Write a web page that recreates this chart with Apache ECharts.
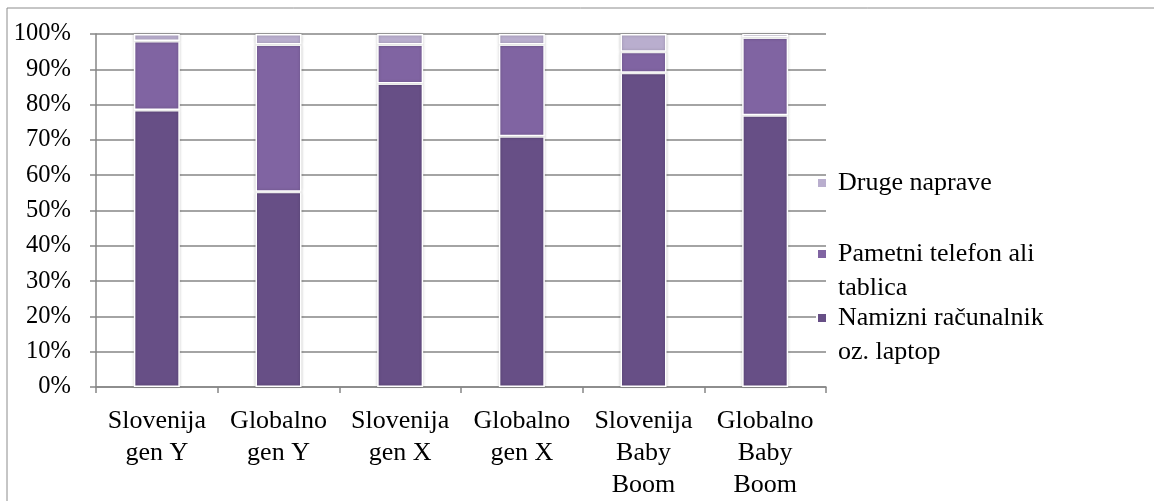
<!DOCTYPE html>
<html>
<head>
<meta charset="utf-8">
<style>
  html, body { margin: 0; padding: 0; background: #ffffff; }
  #chart { width: 1154px; height: 501px; }
</style>
<script src="https://cdn.jsdelivr.net/npm/echarts@6/dist/echarts.min.js"></script>
</head>
<body>
<div id="chart"></div>
<script>
// Device used, by generation (share of respondents, %)
const categories = [
  'Slovenija\ngen Y', 'Globalno\ngen Y', 'Slovenija\ngen X',
  'Globalno\ngen X', 'Slovenija\nBaby\nBoom', 'Globalno\nBaby\nBoom'
];
const laptop = [78.5, 55.3, 86, 71, 89, 77];
const phoneTablet = [19.5, 41.7, 11, 26, 6, 22];
const otherDevices = [2, 3, 3, 3, 5, 1];
const yTicks = [0, 10, 20, 30, 40, 50, 60, 70, 80, 90, 100];

const seriesNames = {
  laptop: 'Namizni računalnik oz. laptop',
  phone: 'Pametni telefon ali tablica',
  other: 'Druge naprave'
};
const legendLabels = {
  [seriesNames.laptop]: ['Namizni računalnik', 'oz. laptop'],
  [seriesNames.phone]: ['Pametni telefon ali', 'tablica'],
  [seriesNames.other]: ['Druge naprave']
};

const font = '"Liberation Serif", "Times New Roman", serif';
const gridColor = '#868686';
const LINE_H = 34;

function barSeries(name, data, color) {
  return {
    name: name,
    type: 'bar',
    stack: 'total',
    data: data,
    barWidth: 46,
    itemStyle: {
      color: color,
      borderColor: '#ffffff',
      borderWidth: 1.5,
      shadowBlur: 3,
      shadowColor: 'rgba(0,0,0,0.22)'
    }
  };
}

// Legend text is centred on its marker; blank lines are prepended so the
// marker lines up with the first line of a wrapped label. Each line starts
// with a small spacer token to widen the gap after the marker.
function legendText(name) {
  const lines = legendLabels[name];
  const pad = new Array(lines.length - 1).fill(' ');
  return pad.concat(lines.map(l => '{s| }{t|' + l + '}')).join('\n');
}

// One legend block per series, placed by its marker's vertical centre
function legendBlock(name, iconCenterY) {
  const n = legendLabels[name].length;
  const blockH = (2 * n - 1) * LINE_H;
  const txt = { color: '#000000', fontFamily: font, fontSize: 26, lineHeight: LINE_H };
  return {
    orient: 'vertical',
    left: 816,
    top: iconCenterY - blockH / 2,
    padding: 0,
    itemWidth: 10,
    itemHeight: 10,
    icon: 'rect',
    data: [name],
    formatter: legendText,
    selectedMode: false,
    textStyle: Object.assign({}, txt, {
      rich: {
        s: { width: 6, fontSize: 26, lineHeight: LINE_H },
        t: txt
      }
    })
  };
}

const chart = echarts.init(document.getElementById('chart'), null, { renderer: 'canvas' });
chart.setOption({
  animation: false,
  backgroundColor: '#ffffff',
  textStyle: { fontFamily: font },
  grid: { left: 96, right: 328, top: 34, bottom: 114, containLabel: false },
  xAxis: {
    type: 'category',
    data: categories,
    axisLine: { show: true, lineStyle: { color: gridColor, width: 1.5 } },
    axisTick: { show: true, length: 6, lineStyle: { color: gridColor, width: 1.5 } },
    axisLabel: {
      color: '#000000', fontFamily: font, fontSize: 26, lineHeight: 32, margin: 18,
      interval: 0
    }
  },
  yAxis: {
    type: 'value',
    min: yTicks[0],
    max: yTicks[yTicks.length - 1],
    interval: 10,
    axisLine: { show: true, lineStyle: { color: gridColor, width: 1.5 } },
    axisTick: { show: true, length: 6, lineStyle: { color: gridColor, width: 1.5 } },
    axisLabel: {
      color: '#000000', fontFamily: font, fontSize: 24.5, margin: 25,
      formatter: v => v + '%'
    },
    splitLine: { show: true, lineStyle: { color: gridColor, width: 1.5 } }
  },
  legend: [
    legendBlock(seriesNames.other, 183),
    legendBlock(seriesNames.phone, 254),
    legendBlock(seriesNames.laptop, 318)
  ],
  graphic: [{
    type: 'polyline',
    shape: { points: [[7, 501], [7, 8], [1154, 8]] },
    style: { stroke: '#8c8c8c', lineWidth: 1, fill: null },
    silent: true
  }],
  series: [
    barSeries(seriesNames.laptop, laptop, '#674f86'),
    barSeries(seriesNames.phone, phoneTablet, '#8064a2'),
    barSeries(seriesNames.other, otherDevices, '#b9aece')
  ]
});
</script>
</body>
</html>
